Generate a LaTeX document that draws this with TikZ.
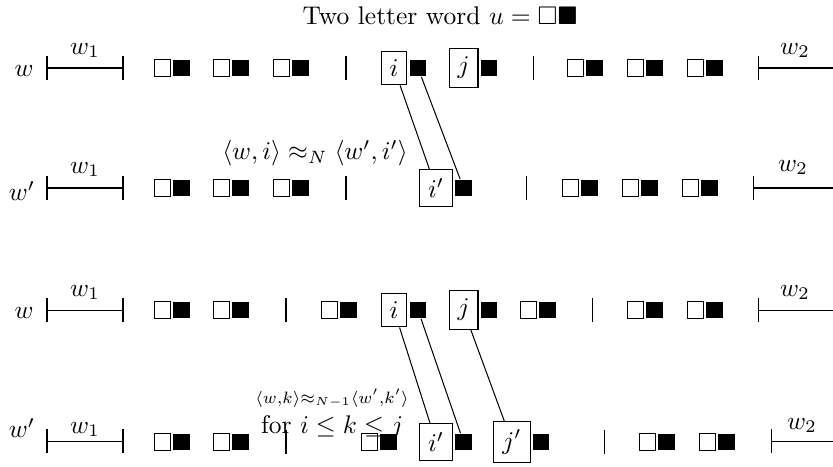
\documentclass[tikz,border=0pt]{standalone}
\usepackage{amssymb}
\usepackage{graphicx}
\newcommand\sqpair[3]{%
  \node[wsq] (#1w) at ({#2+8.5},#3) {};
  \node[bsq] (#1b) at ({#2+27.5},#3) {};}
\newcommand\vdiv[2]{\draw[brk] (#1,{#2-12}) -- (#1,{#2+12});}
\newcommand\lbrk[2]{%
  \coordinate (#1a) at (47,#2); \coordinate (#1b) at (123,#2);
  \draw[brk] (47,{#2-12}) -- (47,{#2+12});
  \draw[brk] (123,{#2-12}) -- (123,{#2+12});
  \draw[brk] (#1a) -- (#1b);}
\newcommand\rbrk[3]{%
  \coordinate (#1a) at (#2,#3); \coordinate (#1b) at (833,#3);
  \draw[brk] (#2,{#3-12}) -- (#2,{#3+12});
  \draw[brk] (#1a) -- (#1b);}
\begin{document}
\begin{tikzpicture}[x=0.392pt,y=-0.392pt,
  wsq/.style={draw, line width=0.4pt, fill=white, minimum size=6.6pt, inner sep=0pt},
  bsq/.style={fill=black, minimum size=6.6pt, inner sep=0pt},
  letterbox/.style={draw, line width=0.4pt, inner sep=3.33pt},
  brk/.style={line width=0.4pt},
  conn/.style={line width=0.4pt},
  lbl/.style={inner sep=0pt}]
\useasboundingbox (0,0) rectangle (833,466);

% title
\node[lbl, anchor=base] (title) at (440,24) {Two letter word $u = \square\blacksquare$};

% ---------- row 1 ----------
\node[lbl] (wA) at (24,71) {$w$};
\lbrk{lA}{68}
\node[lbl, anchor=base] (wA1) at (85,54) {$w_1$};
\sqpair{a1}{154}{68} \sqpair{a2}{213}{68} \sqpair{a3}{273}{68}
\vdiv{346}{68}
\node[letterbox] (ai) at (394,68) {$i$};
\node[bsq] (aib) at (418,68) {};
\node[letterbox] (aj) at (463.5,68) {$j$};
\node[bsq] (ajb) at (489,68) {};
\vdiv{533}{68}
\sqpair{a4}{567}{68} \sqpair{a5}{627}{68} \sqpair{a6}{687}{68}
\rbrk{rA}{758}{68}
\node[lbl, anchor=base] (wA2) at (795,54) {$w_2$};

% ---------- row 2 ----------
\node[lbl] (wB) at (22,191) {$w'$};
\lbrk{lB}{188}
\node[lbl, anchor=base] (wB1) at (85,173) {$w_1$};
\sqpair{b1}{154}{188} \sqpair{b2}{213}{188} \sqpair{b3}{273}{188}
\vdiv{346}{188}
\node[lbl] (eqB) at (315,153) {$\langle w,i\rangle \approx_N \langle w',i'\rangle$};
\node[letterbox] (bi) at (436,188) {$i'$};
\node[bsq] (bib) at (463.5,188) {};
\vdiv{526}{188}
\sqpair{b4}{562}{188} \sqpair{b5}{622}{188} \sqpair{b6}{682}{188}
\rbrk{rB}{753}{188}
\node[lbl, anchor=base] (wB2) at (793,171) {$w_2$};

% ---------- row 3 ----------
\node[lbl] (wC) at (24,313) {$w$};
\lbrk{lC}{310}
\node[lbl, anchor=base] (wC1) at (85,296) {$w_1$};
\sqpair{c1}{154}{310} \sqpair{c2}{213}{310}
\vdiv{286}{310}
\sqpair{c3}{321}{310}
\node[letterbox] (ci) at (394,310) {$i$};
\node[bsq] (cib) at (418,310) {};
\node[letterbox] (cj) at (463.5,310) {$j$};
\node[bsq] (cjb) at (489,310) {};
\sqpair{c4}{520}{310}
\vdiv{592}{310}
\sqpair{c5}{627}{310} \sqpair{c6}{687}{310}
\rbrk{rC}{758}{310}
\node[lbl, anchor=base] (wC2) at (795,296) {$w_2$};

% ---------- row 4 ----------
\node[lbl] (wD) at (22,428) {$w'$};
\lbrk{lD}{441}
\node[lbl, anchor=base] (wD1) at (85,433) {$w_1$};
\sqpair{d1}{154}{442} \sqpair{d2}{213}{442}
\vdiv{286}{442}
\sqpair{d3}{361}{442}
\node[letterbox] (di) at (436,442) {$i'$};
\node[bsq] (dib) at (463.5,442) {};
\node[letterbox] (dj) at (512,442) {$j'$};
\node[bsq] (djb) at (541,442) {};
\vdiv{604}{442}
\sqpair{d4}{639}{442} \sqpair{d5}{699}{442}
\rbrk{rD}{771}{441}
\node[lbl, anchor=base] (wD2) at (802,429) {$w_2$};
\node[lbl, align=center] (eqD) at (332,414)
  {\scalebox{0.92}{$\scriptstyle\langle w,k\rangle\approx_{N-1}\langle w',k'\rangle$}\\for $i\leq k\leq j$};

% ---------- connectors ----------
\draw[conn] (ai) -- (bi);
\draw[conn] (aib) -- (bib);
\draw[conn] (ci) -- (di);
\draw[conn] (cib) -- (dib);
\draw[conn] (cj) -- (dj);
\end{tikzpicture}
\end{document}
